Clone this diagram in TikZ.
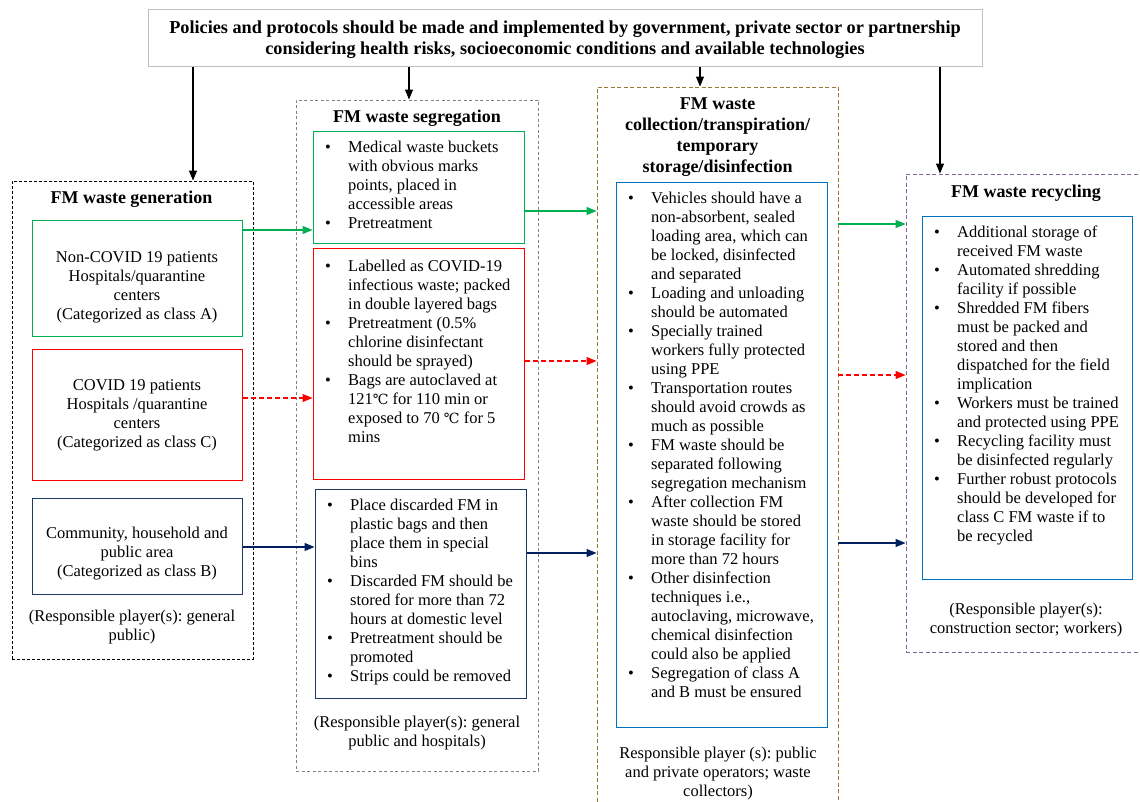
\documentclass[tikz,border=0pt]{standalone}
\usepackage{fontspec}
\setmainfont{Liberation Serif}
\newfontfamily\dvs{DejaVu Serif}
\usetikzlibrary{arrows.meta,fit}
\frenchspacing
\definecolor{cgreen}{RGB}{0,176,80}
\definecolor{cred}{RGB}{255,0,0}
\definecolor{cnavy}{RGB}{32,56,100}
\definecolor{anavy}{RGB}{0,32,96}
\definecolor{cblue}{RGB}{0,112,192}
\definecolor{cgray}{RGB}{127,127,127}
\definecolor{colive}{RGB}{150,120,50}
\definecolor{cpurple}{RGB}{128,100,162}
\definecolor{ctop}{RGB}{191,191,191}
\newcommand{\bodyf}{\fontsize{16.5}{19}\selectfont}
\newcommand{\titlef}{\fontsize{18}{20.7}\selectfont\bfseries}
\newcommand{\blst}[1]{\bodyf\begin{tabular}[t]{@{}p{23pt}@{}l@{}}#1\end{tabular}}
\newcommand{\clines}[1]{\bodyf\begin{tabular}[t]{@{}c@{}}#1\end{tabular}}
\newcommand{\tlines}[1]{\titlef\begin{tabular}[t]{@{}c@{}}#1\end{tabular}}
\newcommand{\degc}{{\dvs\fontsize{14}{19}\selectfont ℃}}
\tikzset{
  cont/.style={draw, line width=0.9pt, inner sep=0pt},
  ibox/.style={draw, line width=1pt, inner sep=0pt},
  txt/.style={inner sep=0pt, anchor=base},
  btxt/.style={inner sep=0pt, anchor=base west},
  arr/.style={line width=1.1pt, -{Triangle[length=10pt,width=8pt]}},
}
\begin{document}
\begin{tikzpicture}[x=1pt,y=-1pt]
\useasboundingbox (0,0) rectangle (1140,802);
\clip (0,0) rectangle (1140,802);
\fill[white] (0,0) rectangle (1140,802);

% top box
\node[ibox, draw=ctop, fit={(148,10) (982,67)}] (top) {};
\node[txt] (toptxt) at (565,34) {\fontsize{18.25}{20.7}\selectfont\bfseries\begin{tabular}[t]{@{}c@{}}Policies and protocols should be made and implemented by government, private sector or partnership\\considering health risks, socioeconomic conditions and available technologies\end{tabular}};

% containers
\node[cont, draw=black, dash pattern=on 3pt off 2pt, fit={(12,181) (253,659)}] (gen) {};
\node[cont, draw=cgray, dash pattern=on 3pt off 2.5pt, fit={(296,100) (538,771)}] (seg) {};
\node[cont, draw=colive, dash pattern=on 4pt off 2.5pt, fit={(597,87) (838,812)}] (col) {};
\node[cont, draw=cpurple, dash pattern=on 4pt off 2.5pt, fit={(906,174) (1150,652)}] (rec) {};

% titles
\node[txt] (gent) at (131.5,204) {\tlines{FM waste generation}};
\node[txt] (segt) at (417,123) {\tlines{FM waste segregation}};
\node[txt] (colt) at (717.5,110) {\tlines{FM waste\\collection/transpiration/\\temporary\\storage/disinfection}};
\node[txt] (rect) at (1026,198) {\tlines{FM waste recycling}};

% generation boxes
\node[ibox, draw=cgreen, fit={(32,221) (242,336)}] (gA) {};
\node[txt] (gAt) at (137,262) {\clines{Non-COVID 19 patients\\Hospitals/quarantine\\centers\\(Categorized as class A)}};
\node[ibox, draw=cred, fit={(32,349) (242,480)}] (gC) {};
\node[txt] (gCt) at (137,390) {\clines{COVID 19 patients\\Hospitals /quarantine\\centers\\(Categorized as class C)}};
\node[ibox, draw=cnavy, fit={(32,498) (242,594)}] (gB) {};
\node[txt] (gBt) at (137,538) {\clines{Community, household and\\public area\\(Categorized as class B)}};
\node[txt] (genr) at (132,621) {\clines{(Responsible player(s): general\\public)}};

% segregation boxes
\node[ibox, draw=cgreen, fit={(313,132) (524,244)}] (sA) {};
\node[btxt] (sAt) at (325,153) {\blst{\textbullet & Medical waste buckets\\ & with obvious marks\\ & points, placed in\\ & accessible areas\\ \textbullet & Pretreatment}};
\node[ibox, draw=cred, fit={(313,249) (524,479)}] (sC) {};
\node[btxt] (sCt) at (325,272) {\blst{\textbullet & Labelled as COVID-19\\ & infectious waste; packed\\ & in double layered bags\\ \textbullet & Pretreatment (0.5\%\\ & chlorine disinfectant\\ & should be sprayed)\\ \textbullet & Bags are autoclaved at\\ & 121\degc{} for 110 min or\\ & exposed to 70 \degc{} for 5\\ & mins}};
\node[ibox, draw=cnavy, fit={(315,489) (526,698)}] (sB) {};
\node[btxt] (sBt) at (327,510) {\blst{\textbullet & Place discarded FM in\\ & plastic bags and then\\ & place them in special\\ & bins\\ \textbullet & Discarded FM should be\\ & stored for more than 72\\ & hours at domestic level\\ \textbullet & Pretreatment should be\\ & promoted\\ \textbullet & Strips could be removed}};
\node[txt] (segr) at (417,727) {\clines{(Responsible player(s): general\\public and hospitals)}};

% collection box
\node[ibox, draw=cblue, fit={(616,183) (827,727)}] (cB) {};
\node[btxt] (cBt) at (628,204) {\blst{\textbullet & Vehicles should have a\\ & non-absorbent, sealed\\ & loading area, which can\\ & be locked, disinfected\\ & and separated\\
\textbullet & Loading and unloading\\ & should be automated\\
\textbullet & Specially trained\\ & workers fully protected\\ & using PPE\\
\textbullet & Transportation routes\\ & should avoid crowds as\\ & much as possible\\
\textbullet & FM waste should be\\ & separated following\\ & segregation mechanism\\
\textbullet & After collection FM\\ & waste should be stored\\ & in storage facility for\\ & more than 72 hours\\
\textbullet & Other disinfection\\ & techniques i.e.,\\ & autoclaving, microwave,\\ & chemical disinfection\\ & could also be applied\\
\textbullet & Segregation of class A\\ & and B must be ensured}};
\node[txt] (colr) at (718,758) {\clines{Responsible player (s): public\\and private operators; waste\\collectors)}};

% recycling box
\node[ibox, draw=cblue, fit={(922,217) (1132,579)}] (rB) {};
\node[btxt] (rBt) at (934,238) {\blst{\textbullet & Additional storage of\\ & received FM waste\\
\textbullet & Automated shredding\\ & facility if possible\\
\textbullet & Shredded FM fibers\\ & must be packed and\\ & stored and then\\ & dispatched for the field\\ & implication\\
\textbullet & Workers must be trained\\ & and protected using PPE\\
\textbullet & Recycling facility must\\ & be disinfected regularly\\
\textbullet & Further robust protocols\\ & should be developed for\\ & class C FM waste if to\\ & be recycled}};
\node[txt] (recr) at (1026,614) {\clines{(Responsible player(s):\\construction sector; workers)}};

% top arrows
\draw[arr] (top.south -| 193,0) -- (gen.north -| 193,0);
\draw[arr] (top.south -| 409,0) -- (seg.north -| 409,0);
\draw[arr] (top.south -| 700,0) -- (col.north -| 700,0);
\draw[arr] (top.south -| 940,0) -- (rec.north -| 940,0);

% generation -> segregation
\draw[arr, cgreen] (gA.east |- 0,230) -- (sA.west |- 0,230);
\draw[arr, cred, dash pattern=on 5pt off 3pt] (gC.east |- 0,398) -- (sC.west |- 0,398);
\draw[arr, anavy] (gB.east |- 0,547) -- (sB.west |- 0,547);

% segregation -> collection
\draw[arr, cgreen] (sA.east |- 0,211) -- (col.west |- 0,211);
\draw[arr, cred, dash pattern=on 5pt off 3pt] (sC.east |- 0,361) -- (col.west |- 0,361);
\draw[arr, anavy] (sB.east |- 0,553) -- (col.west |- 0,553);

% collection -> recycling
\draw[arr, cgreen] (col.east |- 0,224) -- (rec.west |- 0,224);
\draw[arr, cred, dash pattern=on 5pt off 3pt] (col.east |- 0,375) -- (rec.west |- 0,375);
\draw[arr, anavy] (col.east |- 0,543) -- (rec.west |- 0,543);
\end{tikzpicture}
\end{document}
